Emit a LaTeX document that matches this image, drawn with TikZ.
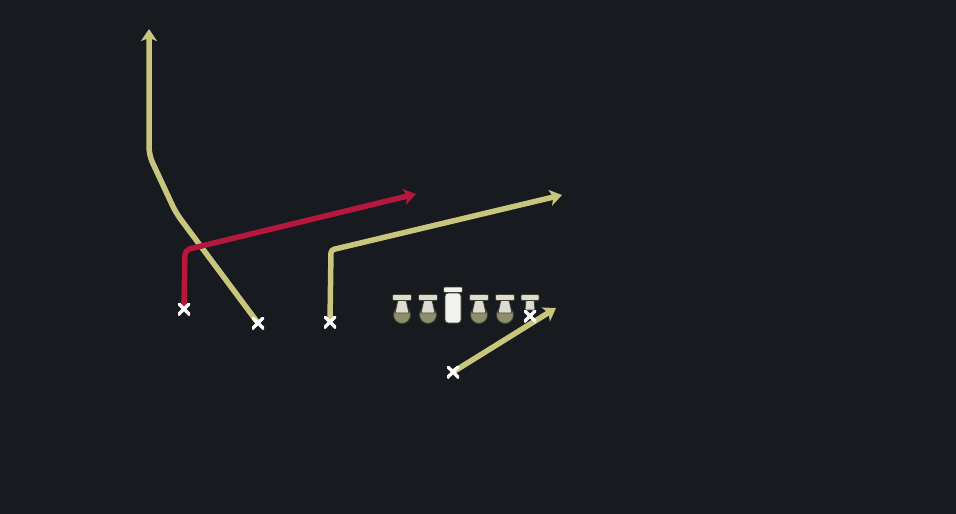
\documentclass[tikz,border=0pt]{standalone}
\usetikzlibrary{arrows.meta}
\definecolor{bgc}{HTML}{171A1F}
\definecolor{routey}{HTML}{C7C67C}
\definecolor{router}{HTML}{B5173D}
\definecolor{lmlight}{HTML}{DCDCD2}
\definecolor{lmwhite}{HTML}{F2F2EE}
\definecolor{lmdark}{HTML}{8E8E6C}
\pgfdeclarelayer{back}
\pgfdeclarelayer{routes}
\pgfsetlayers{back,routes,main}
\begin{document}
\begin{tikzpicture}[x=1pt,y=-1pt,
  route/.style={line width=5.5pt, line join=round, -{Stealth[length=12pt,width=16pt,inset=3pt]}},
  yroute/.style={route, draw=routey},
  rroute/.style={route, draw=router, rounded corners=5pt},
  xmk/.style={minimum size=12pt, inner sep=0pt, path picture={
     \draw[white, line width=3.5pt]
       (path picture bounding box.north west)--(path picture bounding box.south east)
       (path picture bounding box.north east)--(path picture bounding box.south west);}},
  lmbar/.style={fill=lmlight, draw=black!55!lmdark, line width=0.8pt, rounded corners=1pt},
  lineman/.pic={
    \fill[lmdark, draw=black!55!lmdark, line width=0.8pt] (0,1) circle (8.5);
    \path[lmbar] (-4,-14) -- (4,-14) -- (7,-1) -- (-7,-1) -- cycle;
    \path[lmbar] (-9.5,-19.5) rectangle (9.5,-13.5);
  },
  center/.pic={
    \path[lmbar, fill=lmwhite, rounded corners=3pt] (-8,-21) rectangle (8,9);
    \path[lmbar, fill=lmwhite] (-9.5,-27) rectangle (9.5,-21.5);
  },
  endman/.pic={
    \path[lmbar] (-4,-14) -- (4,-14) -- (5,-4) -- (-5,-4) -- cycle;
    \path[lmbar] (-9,-19.5) rectangle (9,-13.5);
  }]
\begin{pgfonlayer}{back}
\fill[bgc] (0,0) rectangle (956,514);
\end{pgfonlayer}

% players (X marks)
\node[xmk] (x1) at (184,309) {};
\node[xmk] (x2) at (258,323) {};
\node[xmk] (x3) at (330,322) {};
\node[xmk] (x4) at (453,372) {};

% offensive line
\pic (l1) at (402,314) {lineman};
\pic (l2) at (428,314) {lineman};
\pic (c)  at (453,314) {center};
\pic (l4) at (479,314) {lineman};
\pic (l5) at (505,314) {lineman};
\pic (l6) at (530,314) {endman};
\node[xmk] (x5) at (530,316) {};

% route ends
\coordinate (e1) at (149,29);
\coordinate (e2) at (416,194);
\coordinate (e3) at (562,195);
\coordinate (e4) at (556,308);

\begin{pgfonlayer}{routes}
\draw[yroute, rounded corners=8pt] (x2.center) -- (176,213) -- (149,155) -- (e1);
\draw[yroute, rounded corners=3pt] (x3.center) -- (331,250) -- (e3);
\draw[yroute] (x4.center) -- (e4);
\draw[rroute] (x1.center) -- (185,250) -- (e2);
\end{pgfonlayer}
\end{tikzpicture}
\end{document}
